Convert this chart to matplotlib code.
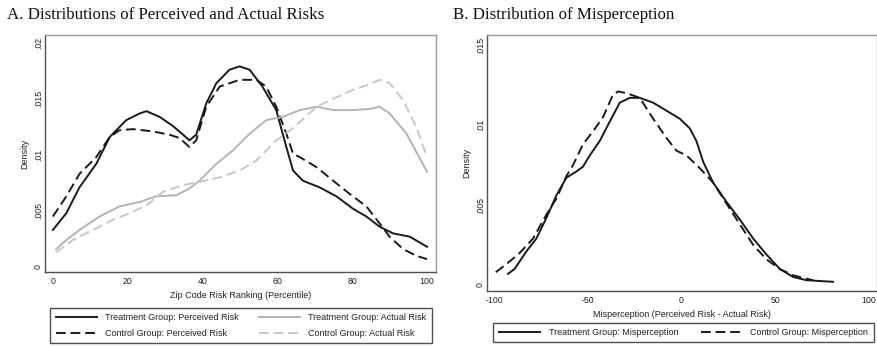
import matplotlib.pyplot as plt

# Panel A: density over zip code risk percentile
tp_x = [0, 3.6, 7.1, 11.6, 15.2, 19.6, 23.2, 25, 28.5, 32, 34.8, 36.5, 38.3, 41, 43.7, 47.2, 49.9,
        52.6, 56, 59.7, 62.4, 64.2, 66.8, 71.3, 75.8, 80.2, 83.8, 87.3, 90.9, 95.4, 100]
tp_y = [.0033, .0048, .0071, .0092, .0116, .0131, .0137, .0139, .0134, .0126, .0118, .0113, .0118,
        .0146, .0164, .0176, .0179, .0176, .0161, .0140, .0107, .0086, .0077, .0071, .0063, .0052,
        .0045, .0036, .0030, .0027, .0018]

cp_x = [0, 3.6, 7.1, 11.6, 15.2, 17.8, 21.4, 26.7, 31.2, 33.9, 36.5, 38.3, 41, 44.6, 49.9, 54.4,
        57, 59.7, 62.4, 64.2, 66, 70.5, 74.9, 79.4, 83.8, 87.3, 90, 93.6, 97.1, 100]
cp_y = [.0045, .0063, .0083, .0098, .0116, .0122, .0123, .0121, .0118, .0115, .0107, .0113, .0143,
        .0161, .0167, .0167, .0161, .0143, .0119, .0101, .0098, .0089, .0077, .0065, .0054, .0039,
        .0027, .0016, .0010, .0007]

ta_x = [0.9, 3.6, 7.1, 12.5, 17.8, 23.2, 27.6, 33, 36.5, 39.2, 43.7, 48.1, 52.6, 57, 61.5, 66,
        70.5, 74.9, 80.2, 84.7, 87.3, 90, 94.5, 100]
ta_y = [.0016, .0024, .0033, .0045, .0054, .0058, .0063, .0064, .0070, .0077, .0092, .0104, .0119,
        .0131, .0134, .0140, .0143, .0140, .0140, .0141, .0143, .0137, .0119, .0085]

ca_x = [0.9, 5.3, 10.7, 16, 20.5, 25, 29.4, 34.8, 39.2, 44.6, 49.9, 54.4, 59.7, 64.2, 70.5, 74.9,
        80.2, 83.8, 87.3, 90, 93.6, 97.1, 100]
ca_y = [.0013, .0024, .0033, .0042, .0048, .0055, .0067, .0073, .0076, .0080, .0086, .0095, .0113,
        .0124, .0143, .0150, .0158, .0162, .0167, .0164, .0149, .0125, .0098]

# Panel B: misperception density
tm_x = [-92.5, -89, -82.7, -77.4, -72, -66.7, -61.4, -56, -52.5, -48.9, -43.6, -38.3, -32.9, -27.6,
        -22.2, -15.1, -8, -0.9, 4.4, 8, 11.6, 16.9, 24, 31.1, 38.3, 45.4, 52.5, 59.6, 66.7, 73.8, 80.9]
tm_y = [.0007, .0010, .0021, .0029, .0042, .0056, .0067, .0071, .0074, .0081, .0090, .0102, .0114,
        .0117, .0117, .0114, .0109, .0104, .0098, .0090, .0077, .0064, .0052, .0041, .0029, .0019,
        .0010, .0005, .0003, .00025, .0002]

cm_x = [-99, -93.4, -86.3, -79.2, -72, -66.7, -61.4, -57.8, -52.5, -47.2, -41.8, -36.5, -33.8, -29.4,
        -22.2, -15.1, -8, -2.7, 2.7, 9.8, 16.9, 24, 31.1, 38.3, 45.4, 52.5, 59.6, 66.7, 70.2]
cm_y = [.0008, .0013, .0020, .0029, .0044, .0054, .0068, .0075, .0088, .0096, .0105, .0119, .0121,
        .0120, .0117, .0104, .0092, .0084, .0081, .0073, .0064, .0051, .0038, .0025, .0016, .0010,
        .0006, .0004, .0003]

W, H = 878, 347
plt.rcParams['font.family'] = 'Liberation Sans'
plt.rcParams['axes.unicode_minus'] = False
fig = plt.figure(figsize=(W / 100, H / 100), dpi=100)

dash = (0, (5, 2.5))
black = '#1a1a1a'
grey_s = '#b4b4b4'
grey_d = '#c8c8c8'
dark_edge = '#505050'
light_edge = '#9a9a9a'
txt = '#222222'


def style(ax):
    ax.spines['left'].set_color(dark_edge)
    ax.spines['bottom'].set_color(dark_edge)
    ax.spines['top'].set_color(light_edge)
    ax.spines['right'].set_color(light_edge)
    for s in ax.spines.values():
        s.set_linewidth(1.0)
    ax.tick_params(axis='x', labelsize=6.3, length=0, pad=3.5, labelcolor=txt)
    ax.tick_params(axis='y', labelsize=6.3, length=0, pad=1.5, labelcolor=txt)
    plt.setp(ax.get_yticklabels(), rotation=90, va='center')


def legend(handles, labels, cx, cy, colspace):
    leg = fig.legend(handles, labels, ncol=2, loc='center', bbox_to_anchor=(cx / W, 1 - cy / H),
                     fancybox=False, edgecolor=dark_edge, fontsize=6.5, handlelength=4.6,
                     handletextpad=0.9, columnspacing=colspace, labelspacing=0.75,
                     borderpad=0.6, framealpha=1)
    leg.get_frame().set_linewidth(1.0)
    for t in leg.get_texts():
        t.set_color(txt)
    return leg


ax1 = fig.add_axes([45 / W, 1 - 272 / H, (436 - 45) / W, (272 - 35) / H])
ax1.plot(tp_x, tp_y, color=black, lw=1.4, label='Treatment Group: Perceived Risk')
ax1.plot(cp_x, cp_y, color=black, lw=1.4, ls=dash, label='Control Group: Perceived Risk')
ax1.plot(ta_x, ta_y, color=grey_s, lw=1.4, label='Treatment Group: Actual Risk')
ax1.plot(ca_x, ca_y, color=grey_d, lw=1.4, ls=dash, label='Control Group: Actual Risk')
ax1.set_xlim(-2.1, 102.4)
ax1.set_ylim(-0.00045, 0.0207)
ax1.set_xticks([0, 20, 40, 60, 80, 100])
ax1.set_yticks([0, .005, .01, .015, .02])
ax1.set_yticklabels(['0', '.005', '.01', '.015', '.02'])
ax1.set_xlabel('Zip Code Risk Ranking (Percentile)', fontsize=6.5, labelpad=4, color=txt)
ax1.set_ylabel('Density', fontsize=6.5, labelpad=3.5, color=txt)
style(ax1)
legend(*ax1.get_legend_handles_labels(), cx=241, cy=325.5, colspace=2.2)

ax2 = fig.add_axes([487 / W, 1 - 291 / H, (877 - 487) / W, (291 - 35) / H])
ax2.plot(tm_x, tm_y, color=black, lw=1.4, label='Treatment Group: Misperception')
ax2.plot(cm_x, cm_y, color=black, lw=1.4, ls=dash, label='Control Group: Misperception')
ax2.set_xlim(-103.7, 104.3)
ax2.set_ylim(-0.000375, 0.01563)
ax2.set_xticks([-100, -50, 0, 50, 100])
ax2.set_yticks([0, .005, .01, .015])
ax2.set_yticklabels(['0', '.005', '.01', '.015'])
ax2.set_xlabel('Misperception (Perceived Risk - Actual Risk)', fontsize=6.5, labelpad=4,
               color=txt)
ax2.set_ylabel('Density', fontsize=6.5, labelpad=3.5, color=txt)
style(ax2)
legend(*ax2.get_legend_handles_labels(), cx=683.5, cy=332.5, colspace=2.5)

fig.text(7 / W, 1 - 15 / H, 'A. Distributions of Perceived and Actual Risks',
         family='Liberation Serif', fontsize=12.2, va='center', ha='left', color='#111111')
fig.text(453 / W, 1 - 15 / H, 'B. Distribution of Misperception',
         family='Liberation Serif', fontsize=12.2, va='center', ha='left', color='#111111')

fig.savefig('out.png', dpi=100)
